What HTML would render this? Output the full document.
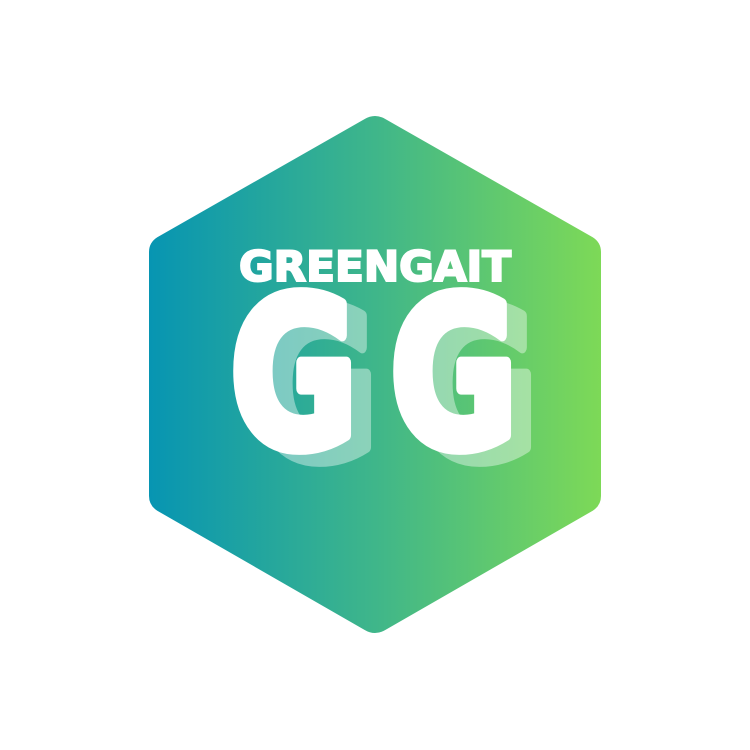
<!DOCTYPE html>
<html><head><meta charset="utf-8"><style>html,body{margin:0;padding:0;background:#fff}svg{display:block}</style></head>
<body>
<svg width="750" height="750" viewBox="0 0 750 750" xmlns="http://www.w3.org/2000/svg">
<defs>
<linearGradient id="g" x1="150" y1="0" x2="600" y2="0" gradientUnits="userSpaceOnUse">
<stop offset="0" stop-color="#0795b2"/><stop offset="0.5" stop-color="#3fb68a"/><stop offset="1" stop-color="#7dd957"/>
</linearGradient>
</defs>
<path d="M365,120 Q375,114 385,120 L592,238 Q600,243 600,252 L600,496 Q600,505 592,510 L385,629 Q375,635 365,629 L158,510 Q150,505 150,496 L150,252 Q150,243 158,238 Z" fill="url(#g)" stroke="url(#g)" stroke-width="2" stroke-linejoin="round"/>
<text x="239" y="281" font-family="'DejaVu Sans','Liberation Sans',sans-serif" font-weight="bold" font-size="42" fill="#fff" stroke="#fff" stroke-width="2" textLength="272" lengthAdjust="spacingAndGlyphs">GREENGAIT</text>
<g fill="#fff" stroke="#fff" stroke-width="12" stroke-linejoin="round" opacity="0.4" font-family="'DejaVu Sans','Liberation Sans',sans-serif" font-weight="bold" font-size="206">
<text x="250" y="458" textLength="128" lengthAdjust="spacingAndGlyphs">G</text>
<text x="410" y="458" textLength="128" lengthAdjust="spacingAndGlyphs">G</text>
</g>
<g fill="#fff" stroke="#fff" stroke-width="12" stroke-linejoin="round" font-family="'DejaVu Sans','Liberation Sans',sans-serif" font-weight="bold" font-size="206">
<text x="230" y="446" textLength="128" lengthAdjust="spacingAndGlyphs">G</text>
<text x="390" y="446" textLength="128" lengthAdjust="spacingAndGlyphs">G</text>
</g>
</svg>
</body></html>
